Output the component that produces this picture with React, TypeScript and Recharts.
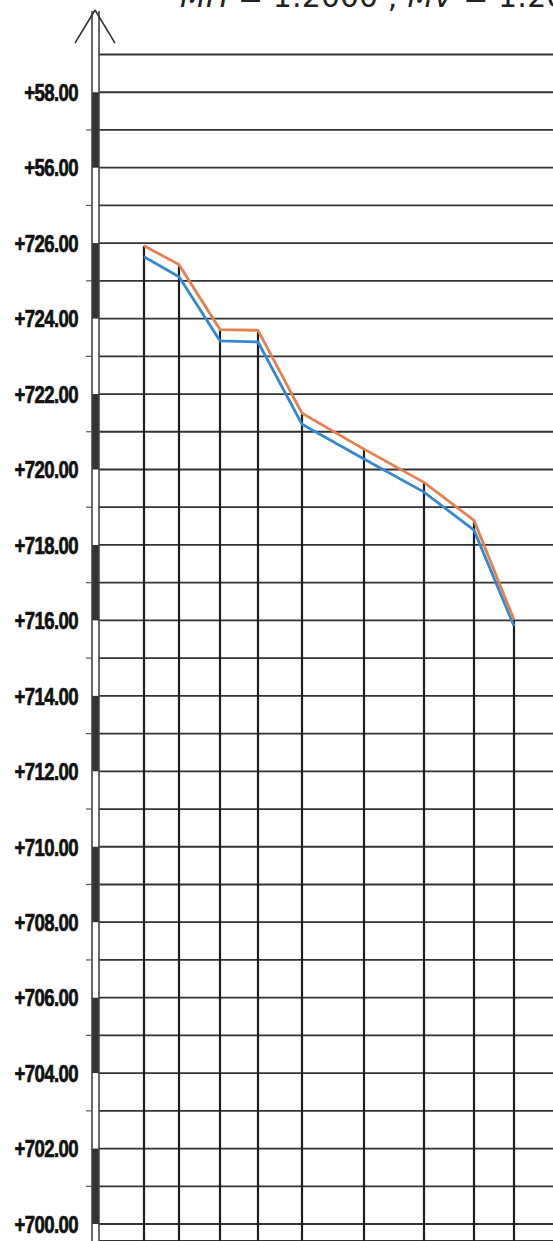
import { ComposedChart, Line, XAxis, YAxis, CartesianGrid, ReferenceLine, ReferenceArea } from "recharts";

// chainage of each profile station (m from the left edge of the grid)
const chainage = [45, 80, 121, 159, 203, 265, 325, 375, 415];
// upper (orange) and lower (blue) levels
const projectLevel = [725.93, 725.43, 723.71, 723.69, 721.49, 720.54, 719.66, 718.65, 716.02];
const groundLevel = [725.64, 725.11, 723.41, 723.38, 721.2, 720.28, 719.4, 718.39, 715.85];

const yTicks = [
  700, 701, 702, 703, 704, 705, 706, 707, 708, 709, 710, 711, 712, 713, 714, 715,
  716, 717, 718, 719, 720, 721, 722, 723, 724, 725, 726, 727, 728, 729, 730, 731,
];
const yTickLabels = [
  "+700.00", "", "+702.00", "", "+704.00", "", "+706.00", "", "+708.00", "", "+710.00", "",
  "+712.00", "", "+714.00", "", "+716.00", "", "+718.00", "", "+720.00", "", "+722.00", "",
  "+724.00", "", "+726.00", "", "+56.00", "", "+58.00", "",
];

const Y_MIN = 699.55;
const Y_MAX = 731;
const AXIS_TOP = 732.15;

const data = chainage.map((ch, i) => ({
  ch,
  project: projectLevel[i],
  ground: groundLevel[i],
}));

// black blocks of the level scale, every other 2 m
const scaleBlocks = yTicks.filter((v) => v % 4 === 0 && v < 731);

const ScaleTick = (props: any) => {
  const { x, y, payload } = props;
  const v = payload.value;
  const label = yTickLabels[yTicks.indexOf(v)];
  return (
    <g>
      {label && (
        <g transform={`translate(${x - 21},${y}) scale(0.76,1)`}>
          <text
            x={0}
            y={0}
            dy={8.8}
            textAnchor="end"
            fill="#111"
            stroke="#111"
            strokeWidth={0.7}
            style={{
              fontFamily: "'Liberation Sans', Arial, sans-serif",
              fontWeight: 700,
              fontSize: 24.5,
              letterSpacing: -0.8,
            }}
          >
            {label}
          </text>
        </g>
      )}
      {v % 2 === 1 && v < 731 && (
        <line x1={x - 13} x2={x - 7} y1={y} y2={y} stroke="#555" strokeWidth={1.2} />
      )}
    </g>
  );
};

export default function App() {
  return (
    <div style={{ position: "absolute", top: 0, left: 0, width: 553, height: 1241, overflow: "hidden", background: "#fff" }}>
      <svg width={553} height={20} style={{ position: "absolute", top: 0, left: 0 }}>
        <text x={180} y={7} fill="#222" style={{ fontFamily: "'DejaVu Sans', sans-serif", fontSize: 30 }}>
          <tspan fontStyle="italic">MH</tspan> = 1:2000 ; <tspan fontStyle="italic">MV</tspan> = 1:200
        </text>
      </svg>
      <ComposedChart width={553} height={1241} data={data} margin={{ top: 54.5, right: 0, bottom: 0, left: 0 }}>
        <CartesianGrid horizontal vertical={false} stroke="#333" strokeWidth={1.8} />
        <XAxis type="number" dataKey="ch" domain={[0, 454]} hide allowDataOverflow />
        <YAxis
          type="number"
          domain={[Y_MIN, Y_MAX]}
          ticks={yTicks}
          interval={0}
          width={99}
          tickSize={0}
          tickMargin={0}
          axisLine={false}
          allowDataOverflow
          tick={(p: any) => <ScaleTick {...p} />}
        />
        {scaleBlocks.map((v) => (
          <ReferenceArea key={"b" + v} x1={-7} x2={0} y1={v} y2={v + 2} fill="#333" fillOpacity={1} stroke="none" ifOverflow="visible" />
        ))}
        <ReferenceLine segment={[{ x: -7, y: Y_MIN }, { x: -7, y: AXIS_TOP }]} stroke="#444" strokeWidth={1.6} ifOverflow="visible" />
        <ReferenceLine segment={[{ x: 0, y: Y_MIN }, { x: 0, y: AXIS_TOP }]} stroke="#444" strokeWidth={1.6} ifOverflow="visible" />
        <ReferenceLine segment={[{ x: -24, y: 731.3 }, { x: -4, y: 732.18 }]} stroke="#333" strokeWidth={1.6} ifOverflow="visible" />
        <ReferenceLine segment={[{ x: 16, y: 731.3 }, { x: -4, y: 732.18 }]} stroke="#333" strokeWidth={1.6} ifOverflow="visible" />
        {data.map((d) => (
          <ReferenceLine
            key={"v" + d.ch}
            segment={[{ x: d.ch, y: Y_MIN }, { x: d.ch, y: Math.max(d.project, d.ground) }]}
            stroke="#1e1e1e"
            strokeWidth={2.2}
            ifOverflow="visible"
          />
        ))}
        <Line type="linear" dataKey="ground" stroke="#3388d4" strokeWidth={2.8} dot={false} isAnimationActive={false} />
        <Line type="linear" dataKey="project" stroke="#e5804f" strokeWidth={2.8} dot={false} isAnimationActive={false} />
      </ComposedChart>
    </div>
  );
}
